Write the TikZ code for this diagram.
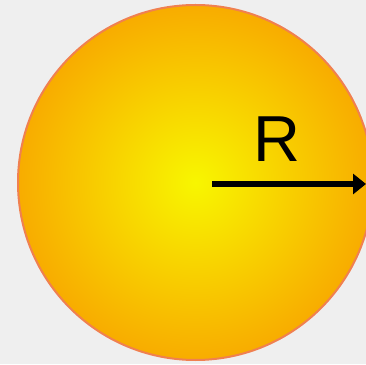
\documentclass[tikz,border=0pt]{standalone}
\usepackage{fontspec}
\setmainfont{Liberation Sans}
\usetikzlibrary{arrows.meta}
\definecolor{bgcol}{RGB}{239,239,239}
\definecolor{suninner}{RGB}{248,246,0}
\definecolor{sunouter}{RGB}{248,172,0}
\definecolor{sunedge}{RGB}{240,128,80}
\tikzset{
  sunstyle/.style={circle, draw=sunedge, line width=2pt, inner color=suninner, outer color=sunouter, minimum size=355pt, inner sep=0pt},
  radiusarrow/.style={line width=6pt, -{Triangle[length=13pt,width=20pt]}},
  biglabel/.style={font=\fontsize{65}{78}\selectfont, inner sep=0pt, anchor=base}
}
\begin{document}
\begin{tikzpicture}[x=1pt,y=1pt]
  \path[fill=bgcol] (0,0) rectangle (366,364);
  \useasboundingbox (0,0) rectangle (366,364);
  \node[sunstyle] (sun) at (195.5,181.5) {};
  \coordinate (rstart) at (212,180);
  \coordinate (rend) at (366,180);
  \draw[radiusarrow] (rstart) -- (rend);
  \node[biglabel] (rlabel) at (277,202) {R};
\end{tikzpicture}
\end{document}
